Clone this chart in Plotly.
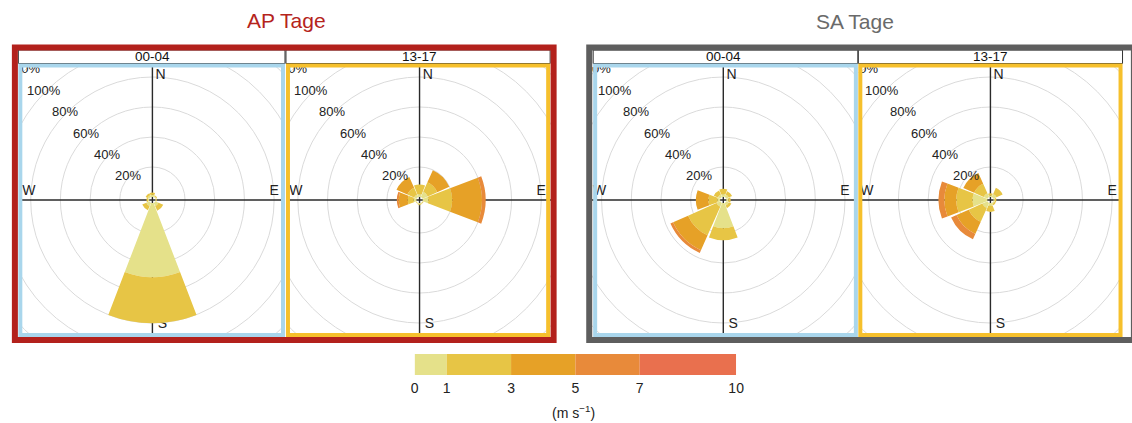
import numpy as np
import plotly.graph_objects as go

W, H = 1132, 423
FONT = "Liberation Sans, Arial, Helvetica, sans-serif"

# ---------------- data ----------------
directions = ["N", "NE", "E", "SE", "S", "SW", "W", "NW"]
theta_deg = [0, 45, 90, 135, 180, 225, 270, 315]
speed_bins = ["0-1", "1-3", "3-5", "5-7", "7-10"]
speed_edges = [0, 1, 3, 5, 7, 10]
speed_colors = ["#e5e18a", "#e7c545", "#e6a127", "#e88a3a", "#e9704e"]

# frequency (%) per direction (N..NW), one list per speed bin (0-1,1-3,3-5,5-7,7-10)
ap_00_04 = [
    [1.5, 1.0, 0.5, 2.5, 50.0, 2.5, 1.0, 1.5],
    [1.5, 0.5, 0.5, 3.5, 31.0, 3.0, 1.0, 1.5],
    [0, 0, 0, 0, 0, 0, 0, 0],
    [0, 0, 0, 0, 0, 0, 0, 0],
    [0, 0, 0, 0, 0, 0, 0, 0],
]
ap_13_17 = [
    [2.0, 4.0, 4.0, 0.5, 1.0, 0.5, 2.0, 2.0],
    [6.5, 7.0, 16.0, 0.5, 0.5, 0.3, 4.0, 5.0],
    [0, 9.0, 20.0, 0, 0, 0, 6.0, 8.0],
    [0, 0, 2.5, 0, 0, 0, 1.3, 0],
    [0, 0, 0, 0, 0, 0, 0, 0],
]
sa_00_04 = [
    [2.0, 2.0, 1.5, 2.0, 17.0, 3.0, 2.0, 2.0],
    [3.5, 2.5, 1.5, 2.0, 8.0, 21.0, 6.0, 3.0],
    [0, 0, 0, 0, 0, 11.0, 8.5, 0],
    [0, 0, 0, 0, 0, 2.0, 0, 0],
    [0, 0, 0, 0, 0, 0, 0, 0],
]
sa_13_17 = [
    [1.0, 2.5, 1.0, 1.0, 2.0, 4.0, 10.0, 3.0],
    [1.5, 4.5, 1.0, 1.0, 4.0, 10.0, 11.0, 7.0],
    [0, 0, 0, 0, 0, 9.0, 8.0, 8.0],
    [0, 0, 0, 0, 0, 4.0, 4.0, 0],
    [0, 0, 0, 0, 0, 0, 0, 0],
]
panel_data = [ap_00_04, ap_13_17, sa_00_04, sa_13_17]
hour_labels = ["00-04", "13-17", "00-04", "13-17"]
group_titles = ["AP Tage", "SA Tage"]
ring_values = [20, 40, 60, 80, 100, 120]
compass_labels = ["N", "E", "S", "W"]

# ---------------- geometry (pixels) ----------------
PX_PER_UNIT = 1.5          # pixels per percent
HALF = 133                 # half size of a panel's plotting square (px)
RT = HALF / PX_PER_UNIT    # half range in % units
OFF = 2.0                  # centre hole (in % units)
centers_x = [150, 420, 727, 997]
CY = 200
panel_borders = [(16.5, 282), (287, 550), (597.5, 861), (865.5, 1128.5)]
panel_border_colors = ["#a9d6ec", "#f6c02c", "#a9d6ec", "#f6c02c"]


def px(x):
    return x / W


def py(y):
    return 1 - y / H


def label(x, y, text, size, color, xref="paper", yref="paper"):
    return dict(x=x, y=y, xref=xref, yref=yref, text=text, showarrow=False,
                xanchor="center", yanchor="middle",
                font=dict(family=FONT, size=size, color=color))


fig = go.Figure()
shapes = []
annotations = []
layout_axes = {}

for i, data in enumerate(panel_data):
    k = i + 1
    cx = centers_x[i]
    dom_x = [px(cx - HALF), px(cx + HALF)]
    dom_y = [py(CY + HALF), py(CY - HALF)]
    xa, ya = f"x{k}", f"y{k}"

    # background cartesian subplot (grid rings, compass, % labels; clipped to panel)
    layout_axes[f"xaxis{k}"] = dict(domain=dom_x, range=[-RT, RT], visible=False,
                                    fixedrange=True, anchor=ya)
    layout_axes[f"yaxis{k}"] = dict(domain=dom_y, range=[-RT, RT], visible=False,
                                    fixedrange=True, anchor=xa)
    for v in ring_values:
        r = v + OFF
        shapes.append(dict(type="circle", xref=xa, yref=ya, x0=-r, x1=r, y0=-r, y1=r,
                           line=dict(color="#dadada", width=1), layer="below"))
    shapes.append(dict(type="line", xref=xa, yref=ya, x0=0, x1=0, y0=-RT, y1=RT,
                       line=dict(color="#2a2a2a", width=1.4), layer="below"))
    shapes.append(dict(type="line", xref=xa, yref=ya, x0=-RT, x1=RT, y0=0, y1=0,
                       line=dict(color="#2a2a2a", width=1.4), layer="below"))

    lab_x = [5.5, 82.0, 6.7, -83.3]
    lab_y = [82.7, 6.0, -83.3, 6.0]
    rl = ring_values[-1] + OFF + 1
    fig.add_trace(go.Scatter(
        x=lab_x + [-rl / np.sqrt(2)], y=lab_y + [rl / np.sqrt(2)],
        text=compass_labels + [f"{ring_values[-1]}%"],
        mode="text", textfont=dict(family=FONT, size=[14, 14, 14, 14, 13], color="#222"),
        textposition="middle center", cliponaxis=True, hoverinfo="skip",
        showlegend=False, xaxis=xa, yaxis=ya))

    for v in ring_values[:-1]:
        rr = v + OFF + 1
        annotations.append(label(-rr / np.sqrt(2), rr / np.sqrt(2), f"{v}%", 13, "#222",
                                 xref=xa, yref=ya))

    # wind rose (stacked barpolar)
    pk = "polar" if k == 1 else f"polar{k}"
    for b, vals in enumerate(data):
        fig.add_trace(go.Barpolar(
            r=vals, theta=theta_deg, width=42, subplot=pk,
            marker=dict(color=speed_colors[b], line=dict(width=0)),
            name=speed_bins[b], showlegend=False, hoverinfo="skip"))
    layout_axes[pk] = dict(
        domain=dict(x=dom_x, y=dom_y), bgcolor="rgba(0,0,0,0)", hole=OFF / RT,
        barmode="stack", bargap=0,
        radialaxis=dict(range=[0, RT - OFF], visible=False, showgrid=False),
        angularaxis=dict(rotation=90, direction="clockwise", visible=False,
                         showgrid=False, showline=False, showticklabels=False, ticks=""))

    # header strip and panel border
    bx0, bx1 = panel_borders[i]
    shapes.append(dict(type="rect", xref="paper", yref="paper", x0=px(bx0 - 2), x1=px(bx1 + 2),
                       y0=py(63.5), y1=py(50), line=dict(color="#333", width=1),
                       fillcolor="white", layer="above"))
    annotations.append(label(px(cx), py(56.5), hour_labels[i], 13.5, "#111"))
    shapes.append(dict(type="rect", xref="paper", yref="paper", x0=px(bx0), x1=px(bx1),
                       y0=py(335), y1=py(65.5),
                       line=dict(color=panel_border_colors[i], width=4), layer="above"))

# group frames and titles
shapes.append(dict(type="rect", xref="paper", yref="paper", x0=px(11), x1=px(555.5),
                   y0=py(340), y1=py(47.5), line=dict(color="#b3211c", width=6), layer="above"))
shapes.append(dict(type="rect", xref="paper", yref="paper", x0=px(591.5), x1=px(1142),
                   y0=py(340), y1=py(47.5), line=dict(color="#5e5e5e", width=6), layer="above"))
annotations.append(label(px(286), py(21), group_titles[0], 21, "#b5241c"))
annotations.append(label(px(860), py(22), group_titles[1], 21, "#6a6a6a"))

# colour key (speed bins)
widths = [speed_edges[j + 1] - speed_edges[j] for j in range(len(speed_bins))]
fig.add_trace(go.Bar(
    x=widths, base=speed_edges[:-1], y=[0] * len(widths), orientation="h", width=1,
    marker=dict(color=speed_colors, line=dict(width=0)), xaxis="x5", yaxis="y5",
    showlegend=False, hoverinfo="skip"))
layout_axes["xaxis5"] = dict(domain=[px(415), px(740)], range=[0, 10], anchor="y5",
                             tickvals=speed_edges, ticktext=[str(e) for e in speed_edges],
                             ticks="", showgrid=False, zeroline=False, showline=False,
                             tickfont=dict(family=FONT, size=14, color="#222"),
                             ticklabelstandoff=3, fixedrange=True)
layout_axes["yaxis5"] = dict(domain=[py(375), py(354)], range=[-0.5, 0.5], anchor="x5",
                             visible=False, fixedrange=True)
annotations.append(label(px(576), py(412), "(m s<sup>−1</sup>)", 14, "#222"))

fig.update_layout(
    width=W, height=H, margin=dict(l=0, r=0, t=0, b=0),
    paper_bgcolor="white", plot_bgcolor="rgba(0,0,0,0)",
    shapes=shapes, annotations=annotations, showlegend=False,
    font=dict(family=FONT), **layout_axes)

fig.write_html("out.html", config={"displayModeBar": False},
               post_script="document.body.style.margin='0px';")
